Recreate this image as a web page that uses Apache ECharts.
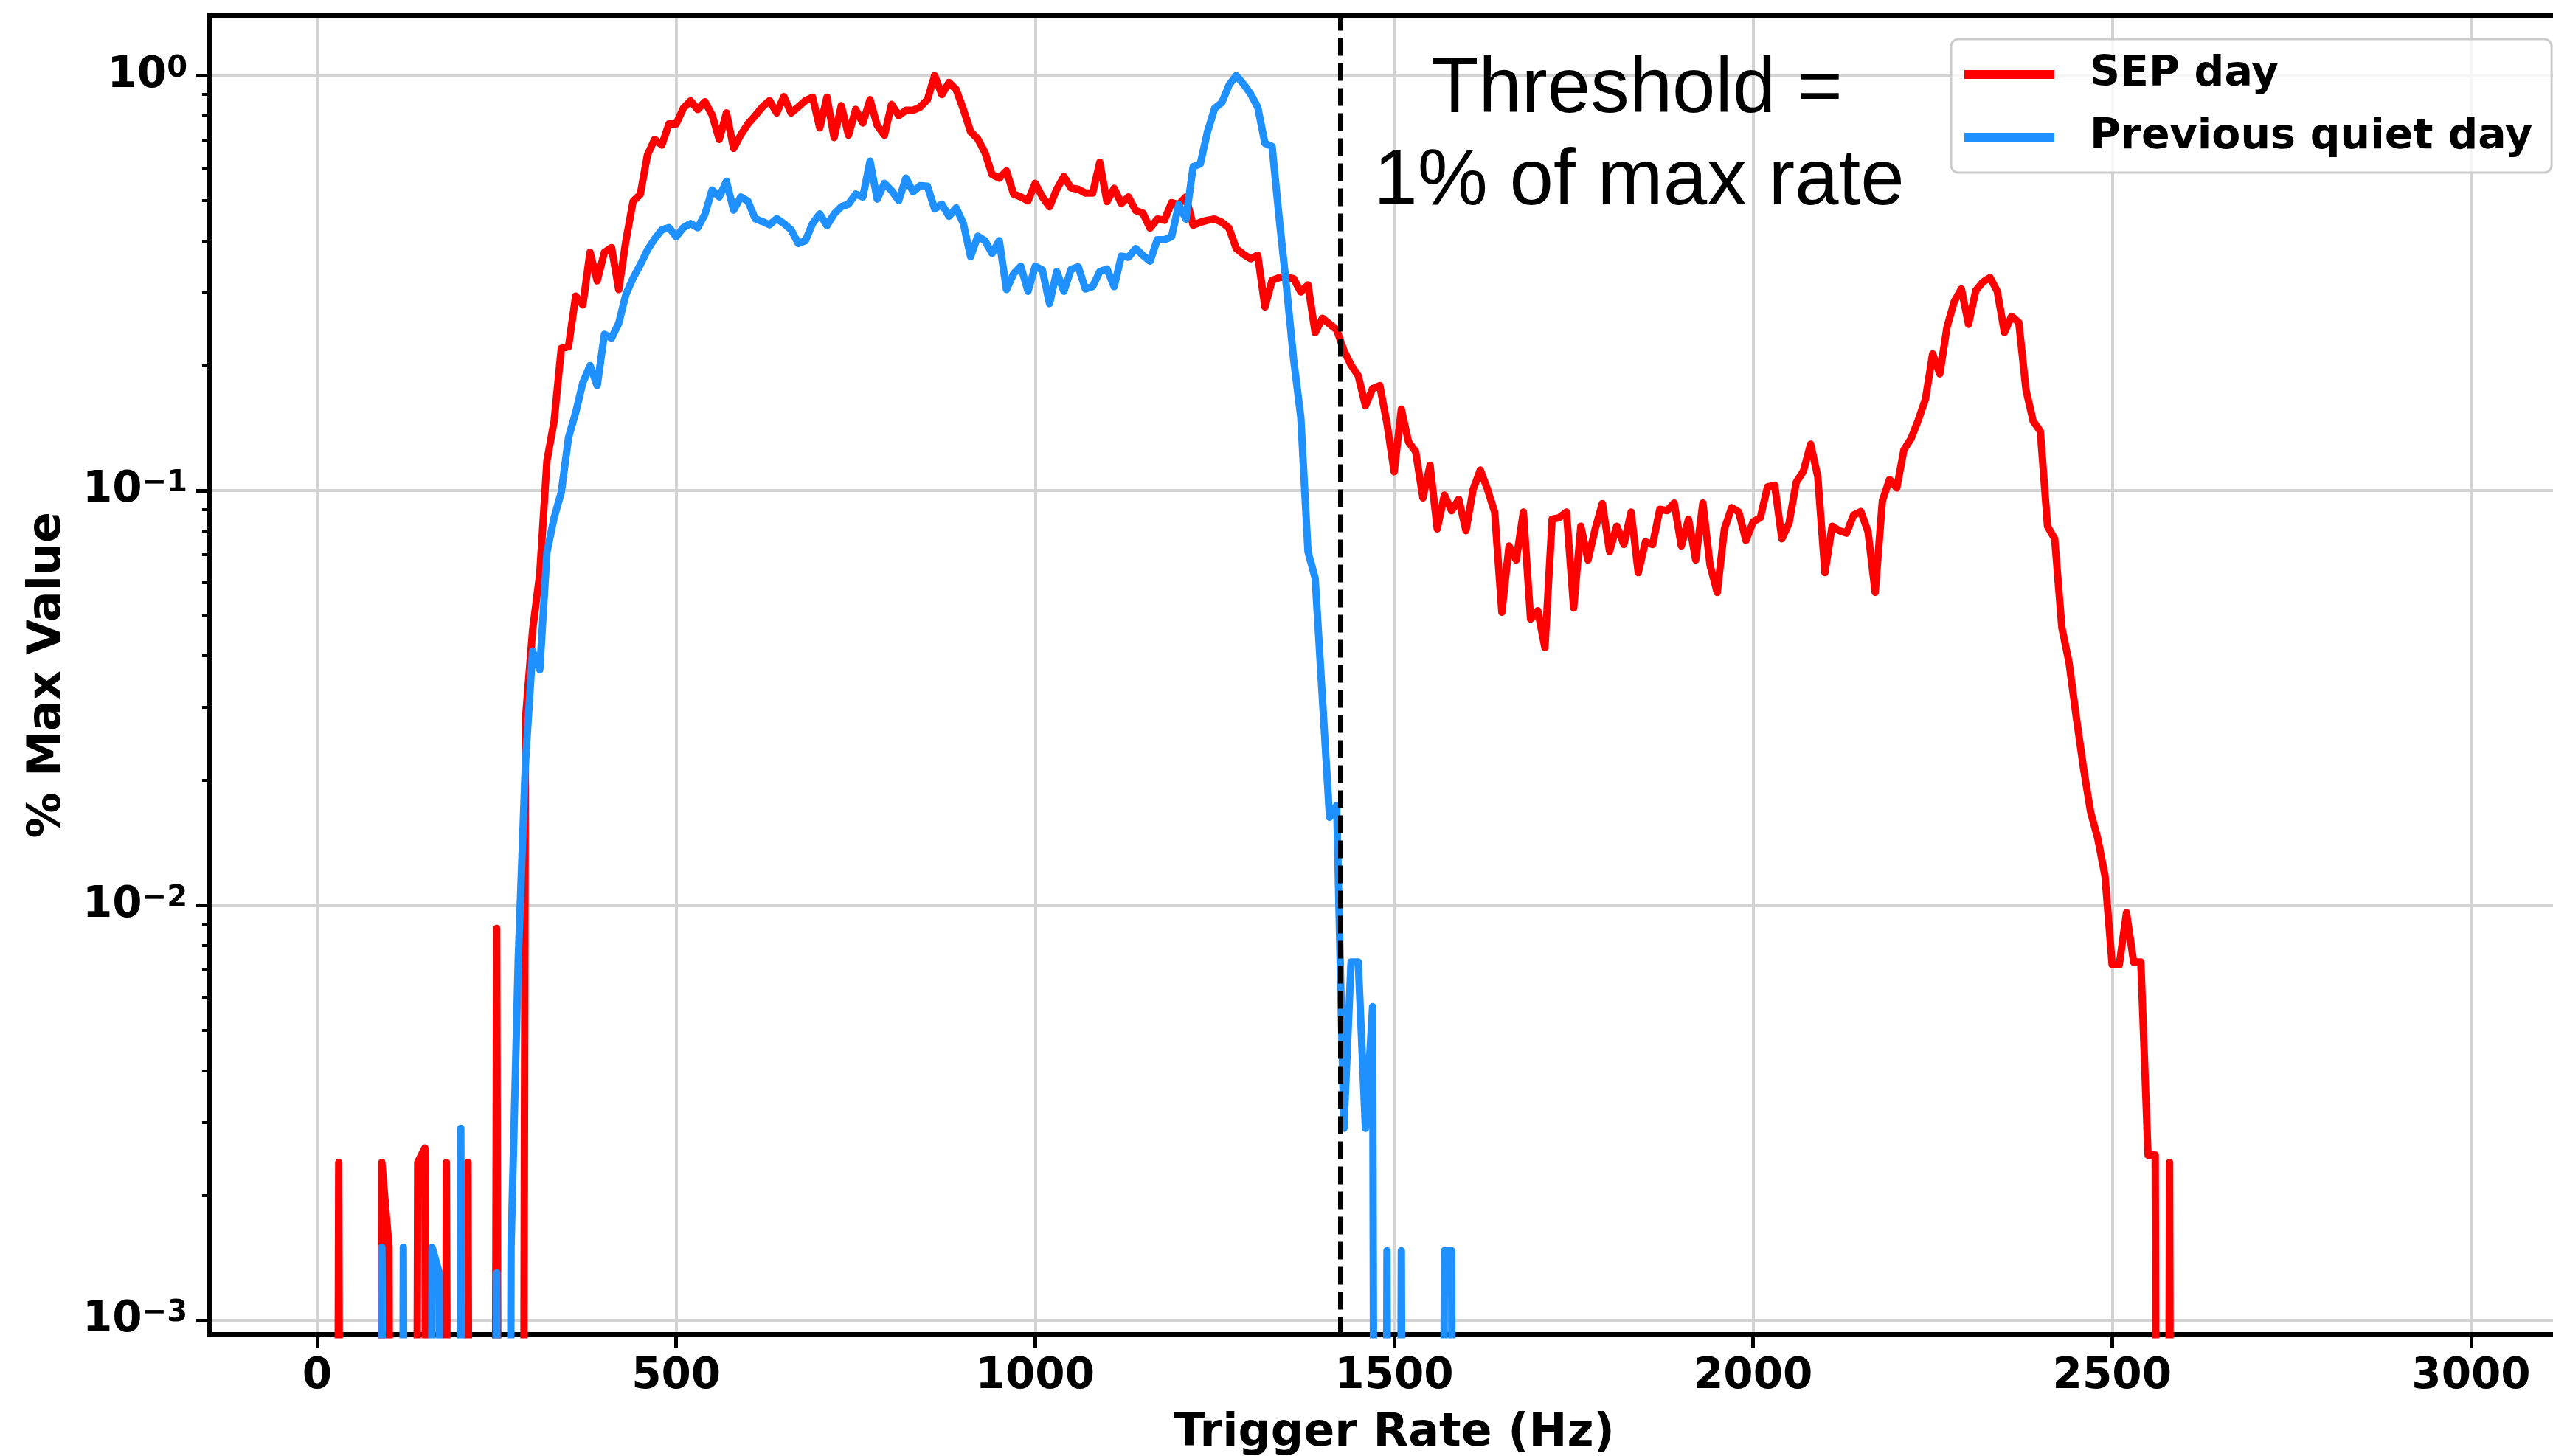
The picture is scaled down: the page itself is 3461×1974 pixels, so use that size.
<!DOCTYPE html>
<html>
<head>
<meta charset="utf-8">
<script src="https://cdn.jsdelivr.net/npm/echarts@6/dist/echarts.min.js"></script>
<style>
html,body{margin:0;padding:0;background:#ffffff;}
#chart{width:3461px;height:1974px;}
</style>
</head>
<body>
<div id="chart"></div>
<script>
// ---------------- DATA ----------------
// Histogram bins: first bin at 0 Hz, 10 Hz wide
const BIN_START_HZ = 0;
const BIN_WIDTH_HZ = 10;

// SEP day, fraction of max value per 10 Hz bin (0 Hz .. 2590 Hz)
const sepDay = [
  0,0,0,0.0024,0,0,0,0,0,0.0024,
  0.0015,0,0,0,0.0024,0.0026,0,0,0.0024,0,
  0,0.0024,0,0,0,0.0088,0,0,0,0.028,
  0.046,0.063,0.118,0.147,0.22,0.222,0.294,0.28,0.375,0.32,
  0.375,0.385,0.305,0.40,0.498,0.517,0.644,0.702,0.68,0.765,
  0.765,0.834,0.869,0.828,0.865,0.804,0.702,0.813,0.668,0.72,
  0.765,0.80,0.84,0.87,0.813,0.89,0.813,0.84,0.87,0.887,
  0.748,0.887,0.709,0.846,0.718,0.829,0.769,0.875,0.759,0.718,
  0.852,0.801,0.825,0.825,0.84,0.875,1.0,0.9,0.963,0.925,
  0.829,0.733,0.704,0.653,0.577,0.566,0.589,0.518,0.51,0.499,
  0.55,0.51,0.483,0.532,0.571,0.536,0.532,0.521,0.521,0.618,
  0.497,0.535,0.492,0.51,0.473,0.466,0.429,0.451,0.448,0.494,
  0.489,0.51,0.436,0.443,0.448,0.451,0.443,0.429,0.383,0.371,
  0.362,0.369,0.277,0.321,0.326,0.327,0.324,0.301,0.313,0.24,
  0.26,0.252,0.244,0.2175,0.2005,0.189,0.16,0.176,0.179,0.145,
  0.111,0.157,0.131,0.124,0.096,0.115,0.0808,0.0975,0.0894,0.0952,
  0.080,0.1006,0.112,0.1006,0.0887,0.0509,0.0735,0.068,0.0887,0.049,
  0.0513,0.0418,0.0853,0.086,0.0887,0.0521,0.082,0.068,0.0808,0.093,
  0.0713,0.082,0.0741,0.0887,0.0634,0.0752,0.0741,0.0901,0.0894,0.0933,
  0.0735,0.0853,0.068,0.0933,0.066,0.0568,0.0808,0.0909,0.0887,0.0758,
  0.084,0.086,0.102,0.103,0.0765,0.0834,0.1046,0.1113,0.1293,0.108,
  0.0634,0.082,0.080,0.0789,0.0873,0.089,0.0795,0.0568,0.0945,0.1063,
  0.1014,0.1253,0.1334,0.1477,0.166,0.2134,0.191,0.2476,0.285,0.306,
  0.2515,0.303,0.318,0.326,0.302,0.2405,0.263,0.254,0.175,0.147,
  0.139,0.082,0.0765,0.0467,0.0385,0.0285,0.0215,0.0168,0.0145,0.0118,
  0.0072,0.0072,0.0096,0.0073,0.0073,0.0025,0.0025,0,0.0024,0
];

// Previous quiet day, fraction of max value per 10 Hz bin (0 Hz .. 1590 Hz)
const quietDay = [
  0,0,0,0,0,0,0,0,0,0.0015,
  0,0,0.0015,0,0,0,0.0015,0.0013,0,0,
  0.0029,0,0,0,0,0.0013,0,0.0015,0.0074,0.022,
  0.041,0.037,0.071,0.086,0.099,0.134,0.154,0.182,0.20,0.179,
  0.238,0.233,0.253,0.297,0.325,0.35,0.38,0.404,0.425,0.43,
  0.409,0.43,0.44,0.43,0.463,0.53,0.51,0.556,0.474,0.51,
  0.498,0.452,0.445,0.437,0.452,0.44,0.425,0.394,0.40,0.44,
  0.464,0.435,0.464,0.483,0.49,0.518,0.51,0.622,0.504,0.55,
  0.528,0.50,0.566,0.525,0.543,0.541,0.477,0.49,0.458,0.48,
  0.44,0.366,0.41,0.40,0.373,0.40,0.305,0.333,0.347,0.302,
  0.347,0.34,0.282,0.337,0.302,0.341,0.346,0.306,0.31,0.337,
  0.342,0.31,0.367,0.365,0.383,0.369,0.357,0.402,0.402,0.409,
  0.489,0.451,0.603,0.613,0.732,0.834,0.861,0.949,1.0,0.955,
  0.904,0.839,0.687,0.675,0.451,0.31,0.207,0.15,0.0712,0.0615,
  0.0317,0.0163,0.0174,0.0029,0.0073,0.0073,0.0029,0.0057,0,0.00147,
  0,0.00147,0,0,0,0,0,0.00147,0.00147,0
];

const seriesNames = ['SEP day', 'Previous quiet day'];
const thresholdHz = 1425;
const annotationLines = ['Threshold =', '1% of max rate'];

const xTickValues = [0, 500, 1000, 1500, 2000, 2500, 3000];
const yTickValues = [0.001, 0.01, 0.1, 1];
const yMinorTickValues = [
  0.002,0.003,0.004,0.005,0.006,0.007,0.008,0.009,
  0.02,0.03,0.04,0.05,0.06,0.07,0.08,0.09,
  0.2,0.3,0.4,0.5,0.6,0.7,0.8,0.9
];
const xTitle = 'Trigger Rate (Hz)';
const yTitle = '% Max Value';

// ---------------- CHART ----------------
const X_MIN = -150, X_MAX = 3150;
const Y_MIN = 0.000923, Y_MAX = 1.396;
// empty bins sit far below the log axis (like matplotlib's clipping), so the line drops off the plot
const LOG_FLOOR = 1e-9;

function toPoints(values) {
  return values.map((v, i) => [BIN_START_HZ + i * BIN_WIDTH_HZ, v > 0 ? v : LOG_FLOOR]);
}

const FONT = 'DejaVu Sans';
const BLACK = '#000000';
const GRID_COLOR = '#d3d3d3';
const RED = '#ff0000';
const BLUE = '#1e90ff';

function supLabel(v) {
  const e = Math.round(Math.log10(v));
  const s = e < 0 ? '\u2212' + (-e) : String(e);
  return '{b|10}{s|' + s + '}';
}

const chart = echarts.init(document.getElementById('chart'), null, {renderer: 'canvas'});

const option = {
  animation: false,
  backgroundColor: '#ffffff',
  textStyle: {fontFamily: FONT},
  grid: {
    left: 284, top: 21, width: 3212, height: 1788.5,
    containLabel: false, outerBoundsMode: 'none', show: false
  },
  legend: {
    show: true,
    data: seriesNames,
    orient: 'vertical',
    left: 2645, top: 53,
    icon: 'rect',
    itemWidth: 122, itemHeight: 12,
    itemGap: 23,
    padding: [17, 26, 17, 18],
    backgroundColor: 'rgba(255,255,255,0.8)',
    borderColor: '#cccccc', borderWidth: 3, borderRadius: 10,
    selectedMode: false,
    textStyle: {
      fontFamily: FONT, fontWeight: 'bold', fontSize: 57, color: BLACK,
      lineHeight: 62, padding: [0, 0, 0, 43]
    }
  },
  xAxis: [
    {
      type: 'value', position: 'bottom', min: X_MIN, max: X_MAX,
      axisLine: {show: true, onZero: false, lineStyle: {color: BLACK, width: 7, cap: 'square'}},
      axisTick: {show: true, customValues: xTickValues, length: 18, lineStyle: {color: BLACK, width: 5}},
      axisLabel: {
        show: true, customValues: xTickValues, margin: 28,
        fontFamily: FONT, fontWeight: 'bold', fontSize: 58, color: BLACK,
        formatter: v => String(v)
      },
      splitLine: {show: true, lineStyle: {color: GRID_COLOR, width: 4}},
      name: xTitle, nameLocation: 'middle', nameGap: 103,
      nameTextStyle: {fontFamily: FONT, fontWeight: 'bold', fontSize: 62, color: BLACK}
    },
    {
      type: 'value', position: 'top', min: X_MIN, max: X_MAX,
      axisLine: {show: true, onZero: false, lineStyle: {color: BLACK, width: 7, cap: 'square'}},
      axisTick: {show: false}, axisLabel: {show: false}, splitLine: {show: false}
    }
  ],
  yAxis: [
    {
      type: 'log', logBase: 10, position: 'left', min: Y_MIN, max: Y_MAX,
      axisLine: {show: true, onZero: false, lineStyle: {color: BLACK, width: 7, cap: 'square'}},
      axisTick: {show: true, customValues: yTickValues, length: 18, lineStyle: {color: BLACK, width: 5}},
      axisLabel: {
        show: true, customValues: yTickValues, margin: 30,
        formatter: supLabel,
        rich: {
          b: {fontFamily: FONT, fontWeight: 'bold', fontSize: 58, color: BLACK},
          s: {fontFamily: FONT, fontWeight: 'bold', fontSize: 40, color: BLACK, verticalAlign: 'top'}
        }
      },
      splitLine: {show: true, lineStyle: {color: GRID_COLOR, width: 4}},
      minorTick: {show: false},
      name: yTitle, nameLocation: 'middle', nameGap: 188, nameRotate: 90,
      nameTextStyle: {fontFamily: FONT, fontWeight: 'bold', fontSize: 62, color: BLACK}
    },
    {
      type: 'log', logBase: 10, position: 'left', min: Y_MIN, max: Y_MAX,
      axisLine: {show: false, onZero: false},
      axisTick: {show: true, customValues: yMinorTickValues, length: 10, lineStyle: {color: BLACK, width: 4}},
      axisLabel: {show: false},
      splitLine: {show: false}
    }
  ],
  series: [
    {
      name: seriesNames[0], type: 'line', xAxisIndex: 0, yAxisIndex: 0,
      data: toPoints(sepDay),
      showSymbol: false, symbol: 'none', clip: true,
      lineStyle: {color: RED, width: 10, join: 'round'},
      itemStyle: {color: RED},
      emphasis: {disabled: true},
      z: 2
    },
    {
      name: seriesNames[1], type: 'line', xAxisIndex: 0, yAxisIndex: 0,
      data: toPoints(quietDay),
      showSymbol: false, symbol: 'none', clip: true,
      lineStyle: {color: BLUE, width: 10, join: 'round'},
      itemStyle: {color: BLUE},
      emphasis: {disabled: true},
      z: 3,
      markLine: {
        silent: true, animation: false,
        symbol: ['none', 'none'],
        label: {show: false},
        lineStyle: {color: BLACK, width: 7, type: [24, 10]},
        emphasis: {disabled: true},
        data: [{xAxis: thresholdHz}]
      }
    }
  ],
  graphic: [
    {
      type: 'text', x: 2219, y: 123, z: 100,
      style: {
        text: annotationLines[0], fill: BLACK,
        font: '105px "Liberation Sans"',
        align: 'center', verticalAlign: 'middle'
      }
    },
    {
      type: 'text', x: 2222, y: 247, z: 100,
      style: {
        text: annotationLines[1], fill: BLACK,
        font: '107px "Liberation Sans"',
        align: 'center', verticalAlign: 'middle'
      }
    }
  ]
};

chart.setOption(option);
</script>
</body>
</html>
